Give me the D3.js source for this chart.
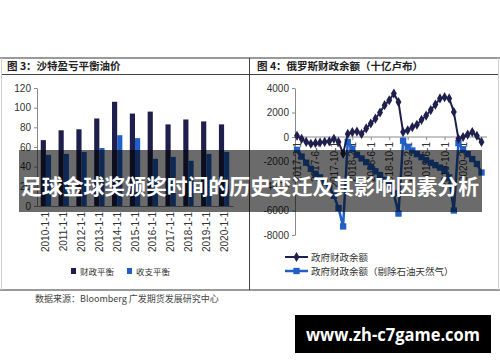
<!DOCTYPE html>
<html>
<head>
<meta charset="utf-8">
<script src="https://cdn.jsdelivr.net/npm/d3@7"></script>
<style>
  body { margin: 0; background: #fff; }
  svg { display: block; }
  .axis text { font-family: "Liberation Sans", Arial, sans-serif; font-size: 10px; fill: #333; }
  .axis path, .axis line { stroke: #8a8a8a; }
  .cjk { font-family: "Noto Sans CJK SC", sans-serif; }
</style>
</head>
<body>
<script>
// left chart: Saudi breakeven oil price
var years = ["2010-1-1", "2011-1-1", "2012-1-1", "2013-1-1", "2014-1-1", "2015-1-1",
             "2016-1-1", "2017-1-1", "2018-1-1", "2019-1-1", "2020-1-1"];
var fiscalBreakeven = [67, 77, 78, 89, 106, 94, 96, 83, 88, 86, 83];
var externalBreakeven = [52, 53, 55, 59, 72, 69, 48, 50, 46, 53, 55];
var leftTicks = [0, 20, 40, 60, 80, 100, 120];

// right chart: Russia fiscal balance (bn rubles), monthly
var months = ["2017-2", "2017-3", "2017-4", "2017-5", "2017-6", "2017-7", "2017-8", "2017-9", "2017-10", "2017-11", "2017-12",
              "2018-1", "2018-2", "2018-3", "2018-4", "2018-5", "2018-6", "2018-7", "2018-8", "2018-9", "2018-10", "2018-11", "2018-12",
              "2019-1", "2019-2", "2019-3", "2019-4", "2019-5", "2019-6", "2019-7", "2019-8", "2019-9", "2019-10", "2019-11", "2019-12",
              "2020-1", "2020-2", "2020-3", "2020-4", "2020-5", "2020-6"];
var balance = [100, -150, -400, -550, -500, -450, -400, -350, -150, -400, -1350,
               250, 400, 450, 250, 700, 1100, 1500, 2000, 2600, 3000, 3550, 2850,
               400, 550, 800, 1000, 1400, 1750, 2200, 2650, 3150, 3250, 3150, 2050,
               -150, 0, 200, 400, 100, -400];
var nonOilBalance = [-1050, -1600, -2100, -2600, -3000, -3300, -3700, -4100, -4800, -5800, -7300,
                     -400, -950, -1450, -1750, -2050, -2450, -2800, -3100, -3500, -3900, -4600, -6250,
                     -300, -800, -1100, -1400, -1650, -1900, -2100, -2300, -2500, -2700, -3300, -6000,
                     -500, -1000, -1400, -1800, -2200, -2900];
var monthTicks = ["2017-2", "2017-6", "2017-10", "2018-2", "2018-6", "2018-10",
                  "2019-2", "2019-6", "2019-10", "2020-2"];
var rightTicks = [-8000, -6000, -4000, -2000, 0, 2000, 4000];

var navy = "#1f1f4e", blue = "#1f5fc6";

var svg = d3.select("body").append("svg")
    .attr("width", 500)
    .attr("height", 362);

// frame
svg.append("line").attr("x1", 0).attr("x2", 500).attr("y1", 58).attr("y2", 58)
    .attr("stroke", "#9a9a9a").attr("stroke-width", 2);
svg.append("line").attr("x1", 0).attr("x2", 500).attr("y1", 290).attr("y2", 290)
    .attr("stroke", "#9a9a9a").attr("stroke-width", 2);
svg.append("line").attr("x1", 2).attr("x2", 498).attr("y1", 74.5).attr("y2", 74.5)
    .attr("stroke", "#444").attr("stroke-width", 1);
svg.append("line").attr("x1", 249.5).attr("x2", 249.5).attr("y1", 58).attr("y2", 290)
    .attr("stroke", "#444").attr("stroke-width", 1);
[1.5, 498.5].forEach(function(x) {
  svg.append("line").attr("x1", x).attr("x2", x).attr("y1", 58).attr("y2", 290)
      .attr("stroke", "#cfcfcf").attr("stroke-width", 1);
});

// panel titles
svg.append("text").attr("class", "cjk").attr("x", 7).attr("y", 70)
    .style("font-size", "10.5px").style("font-weight", "bold").attr("fill", "#222")
    .text("图 3：沙特盈亏平衡油价");
svg.append("text").attr("class", "cjk").attr("x", 257).attr("y", 70)
    .style("font-size", "10.5px").style("font-weight", "bold").attr("fill", "#222")
    .text("图 4：俄罗斯财政余额（十亿卢布）");

// ---- left chart ----
var x0 = d3.scaleBand().domain(years).range([37, 233]).paddingInner(0.42).paddingOuter(0.21);
var x1 = d3.scaleBand().domain([0, 1]).range([0, x0.bandwidth()]);
var yL = d3.scaleLinear().domain([0, 120]).range([206, 88]);

var left = svg.append("g");
years.forEach(function(yr, i) {
  left.append("rect")
      .attr("x", x0(yr) + x1(0)).attr("width", x1.bandwidth())
      .attr("y", yL(fiscalBreakeven[i])).attr("height", yL(0) - yL(fiscalBreakeven[i]))
      .attr("fill", navy);
  left.append("rect")
      .attr("x", x0(yr) + x1(1)).attr("width", x1.bandwidth())
      .attr("y", yL(externalBreakeven[i])).attr("height", yL(0) - yL(externalBreakeven[i]))
      .attr("fill", blue);
});

left.append("g").attr("class", "axis")
    .attr("transform", "translate(37,0)")
    .call(d3.axisLeft(yL).tickValues(leftTicks).tickSize(3).tickSizeOuter(0).tickPadding(3));

var xAxL = left.append("g").attr("class", "axis")
    .attr("transform", "translate(0," + yL(0) + ")")
    .call(d3.axisBottom(x0).tickSize(0).tickSizeOuter(0));
xAxL.selectAll("text")
    .attr("transform", "rotate(-90)")
    .attr("x", -6).attr("y", 0).attr("dy", "0.35em")
    .style("text-anchor", "end");

// left legend
var legL = svg.append("g").attr("class", "cjk").style("font-size", "8.5px");
[[71, navy, "财政平衡"], [127, blue, "收支平衡"]].forEach(function(d) {
  legL.append("rect").attr("x", d[0]).attr("y", 268).attr("width", 5).attr("height", 6).attr("fill", d[1]);
  legL.append("text").attr("x", d[0] + 9).attr("y", 274.5).attr("fill", "#333").text(d[2]);
});

// ---- right chart ----
var xR = d3.scalePoint().domain(months).range([297, 481.5]);
var yR = d3.scaleLinear().domain([-8000, 4000]).range([235, 88]);

var right = svg.append("g");

right.append("g").attr("class", "axis")
    .attr("transform", "translate(295,0)")
    .call(d3.axisLeft(yR).tickValues(rightTicks).tickSize(3).tickSizeOuter(0).tickPadding(3)
      .tickFormat(function(d) { return String(d); }));

var xAxR = right.append("g").attr("class", "axis")
    .attr("transform", "translate(0," + yR(0) + ")")
    .call(d3.axisBottom(xR).tickValues(monthTicks).tickSize(3).tickSizeOuter(0)
      .tickFormat(function(d) { return d + "-1"; }));
xAxR.select(".domain").attr("d", "M295,0H487");
xAxR.selectAll("text")
    .attr("transform", "rotate(-90)")
    .attr("x", -5).attr("y", 0).attr("dy", "0.35em")
    .style("text-anchor", "end");

var lineNon = d3.line().x(function(d, i) { return xR(months[i]); }).y(function(d) { return yR(d); });

right.append("path").datum(nonOilBalance)
    .attr("d", lineNon).attr("fill", "none").attr("stroke", blue).attr("stroke-width", 2.5);
right.selectAll(".sq").data(nonOilBalance).enter().append("path")
    .attr("class", "sq")
    .attr("d", d3.symbol(d3.symbolSquare).size(40))
    .attr("transform", function(d, i) { return "translate(" + xR(months[i]) + "," + yR(d) + ")"; })
    .attr("fill", blue);

right.append("path").datum(balance)
    .attr("d", lineNon).attr("fill", "none").attr("stroke", navy).attr("stroke-width", 2);
right.selectAll(".dm").data(balance).enter().append("path")
    .attr("class", "dm")
    .attr("d", d3.symbol(d3.symbolDiamond).size(30))
    .attr("transform", function(d, i) { return "translate(" + xR(months[i]) + "," + yR(d) + ")"; })
    .attr("fill", navy);

// right legend
var legR = svg.append("g").attr("class", "cjk").style("font-size", "9.5px");
legR.append("line").attr("x1", 285).attr("x2", 308).attr("y1", 257).attr("y2", 257)
    .attr("stroke", navy).attr("stroke-width", 2);
legR.append("path").attr("d", d3.symbol(d3.symbolDiamond).size(30))
    .attr("transform", "translate(296.5,257)").attr("fill", navy);
legR.append("text").attr("x", 311).attr("y", 260.5).attr("fill", "#333").text("政府财政余额");
legR.append("line").attr("x1", 285).attr("x2", 308).attr("y1", 271).attr("y2", 271)
    .attr("stroke", blue).attr("stroke-width", 2.5);
legR.append("path").attr("d", d3.symbol(d3.symbolSquare).size(40))
    .attr("transform", "translate(296.5,271)").attr("fill", blue);
legR.append("text").attr("x", 311).attr("y", 274.5).attr("fill", "#333").text("政府财政余额（剔除石油天然气）");

// source note
svg.append("text").attr("class", "cjk").attr("x", 35).attr("y", 302)
    .style("font-size", "9px").attr("fill", "#444")
    .text("数据来源：Bloomberg 广发期货发展研究中心");

// overlay banner
svg.append("rect").attr("x", 19).attr("y", 150).attr("width", 463).attr("height", 62)
    .attr("fill", "rgba(0,0,0,0.58)");
svg.append("text").attr("class", "cjk").attr("x", 250).attr("y", 193.5)
    .attr("text-anchor", "middle")
    .attr("textLength", 458).attr("lengthAdjust", "spacingAndGlyphs")
    .style("font-size", "21px").style("font-weight", "bold")
    .attr("fill", "#fff")
    .text("足球金球奖颁奖时间的历史变迁及其影响因素分析");

// watermark
svg.append("rect").attr("x", 295).attr("y", 315).attr("width", 196).attr("height", 38).attr("fill", "#000");
svg.append("text").attr("x", 393).attr("y", 341)
    .attr("text-anchor", "middle")
    .attr("textLength", 174).attr("lengthAdjust", "spacingAndGlyphs")
    .style("font-family", "'Open Sans', sans-serif").style("font-size", "18px").style("font-weight", "bold")
    .attr("fill", "#fff")
    .text("www.zh-c7game.com");
</script>
</body>
</html>
